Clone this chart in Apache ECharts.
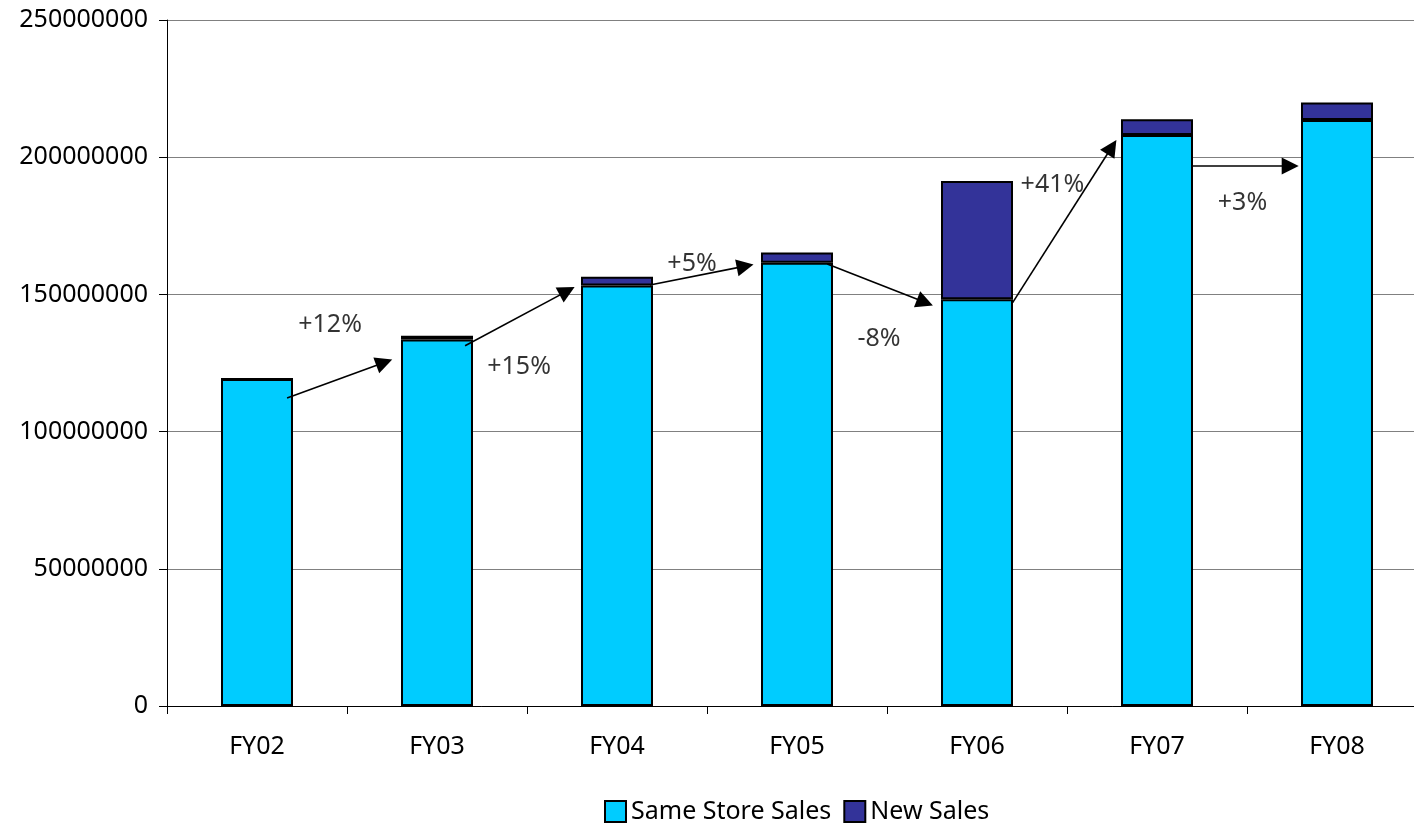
<!DOCTYPE html>
<html>
<head>
<meta charset="utf-8">
<script src="https://cdn.jsdelivr.net/npm/echarts@6/dist/echarts.min.js"></script>
<style>
html,body{margin:0;padding:0;background:#fff;overflow:hidden;width:1414px;height:825px;}
#chart{width:1440px;height:825px;}
</style>
</head>
<body>
<div id="chart"></div>
<script>
// ---- data ----
var categories = ['FY02', 'FY03', 'FY04', 'FY05', 'FY06', 'FY07', 'FY08'];
var sameStoreSales = [119200000, 133600000, 153200000, 161500000, 148200000, 208100000, 213600000];
var newSales = [0, 1300000, 3200000, 3800000, 43100000, 5700000, 6300000];
var yTicks = [0, 50000000, 100000000, 150000000, 200000000, 250000000];

// growth annotations: arrow start/end in [category position, value]
var arrowStarts = [[0.167, 112200000], [1.156, 131300000], [2.183, 153400000], [3.168, 161100000], [4.198, 147000000], [5.198, 196800000]];
var arrowEnds   = [[0.707, 125200000], [1.723, 151200000], [2.712, 160300000], [3.711, 147100000], [4.749, 203700000], [5.740, 196800000]];
var growthLabels = ['+12%', '+15%', '+5%', '-8%', '+41%', '+3%'];
var labelPositions = [[0.406, 138800000], [1.456, 123500000], [2.417, 161100000], [3.456, 133700000], [4.419, 189900000], [5.475, 183300000]];

var FONT = 'Noto Sans';
var chart = echarts.init(document.getElementById('chart'));

var markLineData = arrowStarts.map(function (s, i) {
  return [{ coord: s }, { coord: arrowEnds[i] }];
});
var labelData = labelPositions.map(function (p, i) {
  return { value: p, name: growthLabels[i] };
});

chart.setOption({
  animation: false,
  backgroundColor: '#ffffff',
  grid: { left: 167, top: 20, width: 1260, height: 686, containLabel: false },
  legend: {
    data: ['Same Store Sales', 'New Sales'],
    left: 599,
    top: 794,
    icon: 'rect',
    itemWidth: 21,
    itemHeight: 21,
    itemGap: 12,
    textStyle: { fontFamily: FONT, fontSize: 25, color: '#000' }
  },
  xAxis: [{
    type: 'category',
    data: categories,
    axisLine: { lineStyle: { color: '#000', width: 1 } },
    axisTick: { show: true, length: 8, lineStyle: { color: '#000' } },
    axisLabel: { fontFamily: FONT, fontSize: 25, color: '#000', margin: 28 },
    splitLine: { show: false }
  }, {
    type: 'value',
    min: -0.5,
    max: 6.5,
    show: false
  }],
  yAxis: {
    type: 'value',
    min: 0,
    max: 250000000,
    interval: 50000000,
    axisLine: { show: true, onZero: false, lineStyle: { color: '#000', width: 1 } },
    axisTick: { show: true, length: 8, lineStyle: { color: '#000' } },
    axisLabel: {
      fontFamily: FONT, fontSize: 25, color: '#000', margin: 19,
      formatter: function (v) { return String(v); }
    },
    splitLine: { show: true, lineStyle: { color: '#808080', width: 1 } }
  },
  series: [{
    name: 'Same Store Sales',
    type: 'bar',
    stack: 'total',
    barWidth: '40%',
    data: sameStoreSales,
    itemStyle: { color: '#00CCFF', borderColor: '#000', borderWidth: 2 },
    z: 2
  }, {
    name: 'New Sales',
    type: 'bar',
    stack: 'total',
    barWidth: '40%',
    data: newSales,
    itemStyle: { color: '#333399', borderColor: '#000', borderWidth: 2 },
    z: 2
  }, {
    name: 'labels',
    type: 'scatter',
    xAxisIndex: 1,
    symbolSize: 0,
    data: labelData,
    silent: true,
    label: {
      show: true,
      position: 'inside',
      formatter: '{b}',
      fontFamily: FONT,
      fontSize: 25,
      color: '#000'
    },
    z: 3
  }, {
    name: 'arrows',
    type: 'line',
    xAxisIndex: 1,
    data: [],
    silent: true,
    markLine: {
      silent: true,
      symbol: ['none', 'triangle'],
      symbolSize: 17,
      label: { show: false },
      lineStyle: { color: '#000', width: 1.6, type: 'solid' },
      itemStyle: { color: '#000' },
      emphasis: { disabled: true },
      data: markLineData
    },
    z: 5
  }]
});
</script>
</body>
</html>
